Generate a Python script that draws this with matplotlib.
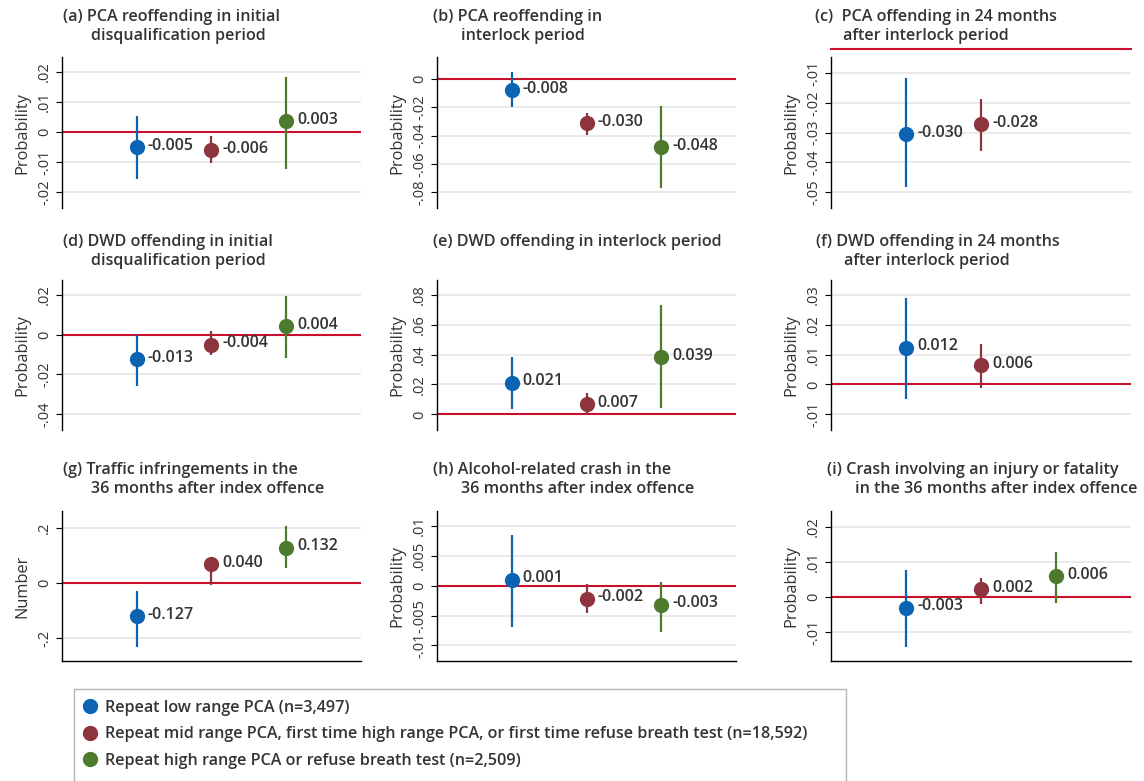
import matplotlib
matplotlib.use('Agg')
import matplotlib.pyplot as plt
from matplotlib.lines import Line2D
from matplotlib.patches import Rectangle
import numpy as np

plt.rcParams['font.family'] = ['Open Sans', 'DejaVu Sans']

# ---- data ----
titles = [
    ['(a) PCA reoffending in initial', 'disqualification period'],
    ['(b) PCA reoffending in', 'interlock period'],
    ['(c)  PCA offending in 24 months', 'after interlock period'],
    ['(d) DWD offending in initial', 'disqualification period'],
    ['(e) DWD offending in interlock period'],
    ['(f) DWD offending in 24 months', 'after interlock period'],
    ['(g) Traffic infringements in the', '36 months after index offence'],
    ['(h) Alcohol-related crash in the', '36 months after index offence'],
    ['(i) Crash involving an injury or fatality', 'in the 36 months after index offence'],
]
ylabels = ['Probability'] * 6 + ['Number', 'Probability', 'Probability']

estimates = [
    [-0.0050, -0.0060, 0.0037],
    [-0.0078, -0.0310, -0.0480],
    [-0.0305, -0.0272],
    [-0.0125, -0.0050, 0.0042],
    [0.0212, 0.0069, 0.0383],
    [0.0123, 0.0065],
    [-0.121, 0.068, 0.129],
    [0.0010, -0.0022, -0.0032],
    [-0.0031, 0.0022, 0.0060],
]
ci_low = [
    [-0.0157, -0.0103, -0.0123],
    [-0.0200, -0.0396, -0.0770],
    [-0.0485, -0.0362],
    [-0.0259, -0.0100, -0.0117],
    [0.0034, -0.0003, 0.0040],
    [-0.0050, -0.0011],
    [-0.232, -0.006, 0.056],
    [-0.0069, -0.0045, -0.0078],
    [-0.0142, -0.0021, -0.0016],
]
ci_high = [
    [0.0053, -0.0013, 0.0183],
    [0.0050, -0.0240, -0.0190],
    [-0.0115, -0.0187],
    [0.0000, 0.0016, 0.0192],
    [0.0387, 0.0145, 0.0734],
    [0.0289, 0.0135],
    [-0.027, 0.077, 0.208],
    [0.0085, 0.0003, 0.0007],
    [0.0077, 0.0055, 0.0129],
]
value_labels = [
    ['-0.005', '-0.006', '0.003'],
    ['-0.008', '-0.030', '-0.048'],
    ['-0.030', '-0.028'],
    ['-0.013', '-0.004', '0.004'],
    ['0.021', '0.007', '0.039'],
    ['0.012', '0.006'],
    ['-0.127', '0.040', '0.132'],
    ['0.001', '-0.002', '-0.003'],
    ['-0.003', '0.002', '0.006'],
]
yticks = [
    [-.02, -.01, 0, .01, .02],
    [-.08, -.06, -.04, -.02, 0],
    [-.05, -.04, -.03, -.02, -.01],
    [-.04, -.02, 0, .02],
    [0, .02, .04, .06, .08],
    [-.01, 0, .01, .02, .03],
    [-.2, 0, .2],
    [-.01, -.005, 0, .005, .01],
    [-.01, 0, .01, .02],
]
ylims = [
    (-0.0253, 0.025), (-0.091, 0.0155), (-0.0554, -0.0046),
    (-0.048, 0.0275), (-0.0105, 0.09), (-0.0153, 0.035),
    (-0.284, 0.263), (-0.0126, 0.0125), (-0.0183, 0.0246),
]
groups = ['Repeat low range PCA (n=3,497)',
          'Repeat mid range PCA, first time high range PCA, or first time refuse breath test (n=18,592)',
          'Repeat high range PCA or refuse breath test (n=2,509)']
colors = ['#0b63b4', '#8e343c', '#4e7a2e']

TEXT = '#333333'
W, H = 1144, 781


def stata_fmt(v):
    if v == 0:
        return '0'
    s = ('%g' % v)
    return s.replace('0.', '.')


fig = plt.figure(figsize=(W / 100, H / 100), dpi=100)

col_x = [(62, 361), (437, 736), (831, 1131)]
row_y = [(57, 208), (280, 430), (511, 661)]
title_x = [63, 433, 815, 63, 433, 816, 63, 433, 827]
title_y = [17, 242, 470]

for i in range(9):
    r, c = divmod(i, 3)
    x0, x1 = col_x[c]
    y0, y1 = row_y[r]
    ax = fig.add_axes([x0 / W, 1 - y1 / H, (x1 - x0) / W, (y1 - y0) / H])

    # grid lines at ticks
    for t in yticks[i]:
        ax.axhline(t, color='#e6e6e6', lw=1.2, zorder=0)

    # zero line (drawn just above the plot when 0 is off the scale)
    if ylims[i][0] < 0 < ylims[i][1]:
        ax.axhline(0, color='#c8102e', lw=1.5, zorder=1)
    else:
        ax.plot([0, 1], [1.054, 1.054], transform=ax.transAxes,
                color='#c8102e', lw=1.5, clip_on=False)

    for k, v in enumerate(estimates[i]):
        xpos = k + 1
        ax.plot([xpos, xpos], [ci_low[i][k], ci_high[i][k]],
                color=colors[k], lw=1.6, zorder=2, solid_capstyle='butt')
        ax.plot(xpos, v, 'o', color=colors[k], markersize=11, zorder=3,
                markeredgewidth=0)
        ax.annotate(value_labels[i][k], (xpos, v), xytext=(8, 1),
                    textcoords='offset points', ha='left', va='center',
                    fontsize=11.5, fontweight='semibold', color=TEXT)

    ax.set_xlim(0, 4)
    ax.set_ylim(*ylims[i])
    ax.set_xticks([])
    ax.set_yticks(yticks[i])
    ax.set_yticklabels([stata_fmt(t) for t in yticks[i]], rotation=90,
                       va='center', fontsize=10.5, color=TEXT)
    ax.tick_params(axis='y', length=4, width=0.8, pad=3)
    ax.set_ylabel(ylabels[i], fontsize=11.8, color=TEXT, labelpad=5,
                  fontweight='medium')
    for s in ['top', 'right']:
        ax.spines[s].set_visible(False)
    if r < 2:
        ax.spines['bottom'].set_visible(False)
    ax.spines['left'].set_linewidth(1)
    ax.spines['bottom'].set_linewidth(1)
    ax.set_facecolor('none')

    # titles: second line indented like the reference
    tx = title_x[i]
    for j, line in enumerate(titles[i]):
        fig.text((tx + (28 if j else 0)) / W, 1 - (title_y[r] + 19 * j) / H, line,
                 ha='left', va='center', fontsize=11.6, fontweight='semibold',
                 color=TEXT)

# legend box runs off the bottom of the image in the reference
fig.patches.append(Rectangle((74 / W, -0.05), (846 - 74) / W, 1 - 689 / H + 0.05,
                             transform=fig.transFigure, fill=False,
                             edgecolor='#b5b5b5', lw=1))

handles = [Line2D([], [], marker='o', ls='none', color=col, markersize=11,
                  markeredgewidth=0) for col in colors]
leg = fig.legend(handles, groups, loc='upper left',
                 bbox_to_anchor=(82 / W, 1 - 700 / H), frameon=False,
                 borderaxespad=0, handletextpad=0.45, handlelength=1.0,
                 labelspacing=0.64, borderpad=0.0,
                 prop={'size': 11.6, 'weight': 'semibold'})
for t in leg.get_texts():
    t.set_color(TEXT)

fig.savefig('out.png', dpi=100)
